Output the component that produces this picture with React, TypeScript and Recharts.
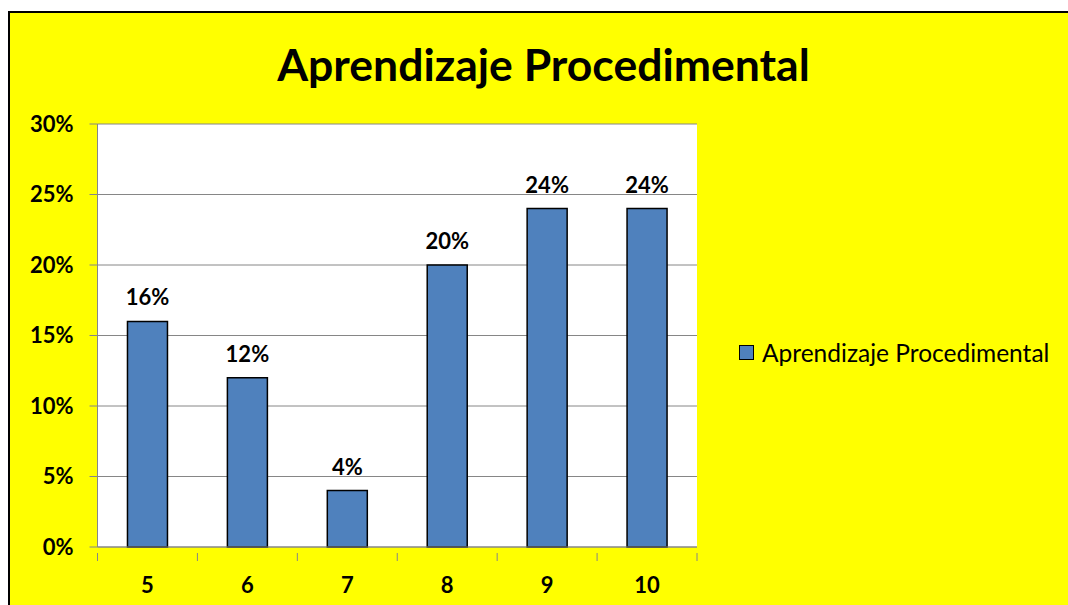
import React from 'react';
import { BarChart, Bar, XAxis, YAxis, CartesianGrid, LabelList, Legend } from 'recharts';

const title = 'Aprendizaje Procedimental';
const seriesName = 'Aprendizaje Procedimental';
const categories = ['5', '6', '7', '8', '9', '10'];
const values = [0.16, 0.12, 0.04, 0.2, 0.24, 0.24];
const yTicks = [0, 0.05, 0.1, 0.15, 0.2, 0.25, 0.3];

const data = categories.map((c, i) => ({ name: c, value: values[i] }));

const FONT = 'Lato, "Open Sans", sans-serif';
const GRID = '#868686';
const BAR = '#4F81BD';

const pct = (v: number) => `${Math.round(v * 100)}%`;

const XTick = (props: any) => {
  const { x, y, payload, index, visibleTicksCount, width } = props;
  const half = payload?.offset || (width && visibleTicksCount ? width / visibleTicksCount / 2 : 0);
  return (
    <g>
      <line x1={x - half} y1={y} x2={x - half} y2={y + 8} stroke={GRID} strokeWidth={1} />
      {index === visibleTicksCount - 1 && (
        <line x1={x + half} y1={y} x2={x + half} y2={y + 8} stroke={GRID} strokeWidth={1} />
      )}
      <text x={x} y={y + 31} textAnchor="middle" dominantBaseline="central" fontFamily={FONT} fontWeight={700} fontSize={22} fill="#000">
        {payload.value}
      </text>
    </g>
  );
};

const LegendContent = () => (
  <div style={{ display: 'flex', alignItems: 'center', fontFamily: FONT, fontSize: 24.5, color: '#000', whiteSpace: 'nowrap' }}>
    <span style={{ display: 'inline-block', width: 13, height: 13, background: BAR, border: '1px solid #000', marginRight: 8 }} />
    <span>{seriesName}</span>
  </div>
);

export default function App() {
  return (
    <div
      style={{
        position: 'fixed',
        left: 8,
        top: 11,
        width: 1058,
        height: 592,
        borderTop: '2px solid #000',
        borderLeft: '2px solid #000',
        background: '#FFFF00',
        overflow: 'hidden',
      }}
    >
      <div
        style={{
          position: 'absolute',
          left: 33.5,
          width: 1000,
          top: 26,
          textAlign: 'center',
          fontFamily: FONT,
          fontWeight: 700,
          fontSize: 44.5,
          color: '#000',
          lineHeight: '50px',
        }}
      >
        {title}
      </div>
      <BarChart
        width={1058}
        height={592}
        data={data}
        margin={{ top: 111, right: 371, bottom: 0, left: 0 }}
        barCategoryGap="30%"
      >
        <CartesianGrid vertical={false} stroke={GRID} strokeWidth={1} fill="#FFFFFF" />
        <XAxis
          dataKey="name"
          height={58}
          axisLine={{ stroke: GRID, strokeWidth: 1 }}
          tickLine={false}
          tickMargin={0}
          tick={<XTick />}
          interval={0}
        />
        <YAxis
          width={87.5}
          domain={[0, 0.3]}
          ticks={yTicks}
          tickFormatter={pct}
          axisLine={{ stroke: GRID, strokeWidth: 1 }}
          tickLine={{ stroke: GRID, strokeWidth: 1 }}
          tickSize={8}
          tickMargin={16}
          tick={{ fontFamily: FONT, fontWeight: 700, fontSize: 22, fill: '#000' }}
          interval={0}
        />
        <Legend
          layout="horizontal"
          verticalAlign="middle"
          align="center"
          content={<LegendContent />}
          wrapperStyle={{ position: 'absolute', left: 729, top: 325, width: 325, right: 'auto', bottom: 'auto' }}
        />
        <Bar dataKey="value" name={seriesName} fill={BAR} stroke="#000" strokeWidth={1.5} isAnimationActive={false}>
          <LabelList
            dataKey="value"
            position="top"
            offset={16}
            formatter={(v: any) => pct(Number(v))}
            style={{ fontFamily: FONT, fontWeight: 700, fontSize: 22, fill: '#000' }}
          />
        </Bar>
      </BarChart>
    </div>
  );
}
